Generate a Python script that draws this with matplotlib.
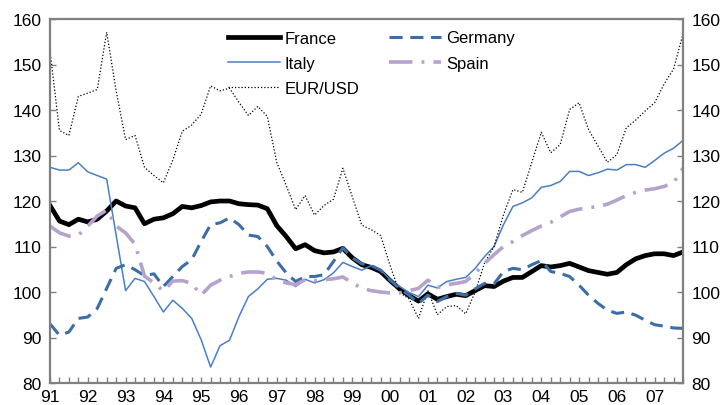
import numpy as np
import matplotlib
matplotlib.use("Agg")
import matplotlib.pyplot as plt
from matplotlib.ticker import FixedLocator, MultipleLocator

plt.rcParams['font.family'] = ['Liberation Sans', 'DejaVu Sans']

# quarterly values, 1991Q1 .. 2007Q4
france = [119.0, 115.6, 114.8, 116.0, 115.4, 116.0, 117.8, 120.0, 118.9, 118.5,
          115.0, 116.0, 116.3, 117.2, 118.8, 118.5, 119.0, 119.8, 120.0, 120.0,
          119.4, 119.2, 119.1, 118.3, 114.6, 112.2, 109.5, 110.4, 109.1, 108.6,
          108.8, 109.6, 107.5, 106.0, 105.4, 104.5, 102.5, 100.7, 99.2, 98.0,
          99.6, 98.4, 99.0, 99.5, 99.2, 100.3, 101.4, 101.2, 102.4, 103.2,
          103.2, 104.5, 105.8, 105.5, 105.8, 106.3, 105.5, 104.7, 104.3, 103.9,
          104.3, 106.0, 107.3, 108.0, 108.4, 108.4, 108.0, 108.8]
germany = [93.0, 90.5, 91.2, 94.2, 94.5, 96.4, 100.8, 105.2, 106.0, 104.9,
           103.6, 104.0, 101.2, 103.4, 105.6, 107.1, 111.1, 114.8, 115.2, 116.3,
           114.8, 112.5, 112.2, 110.0, 106.8, 104.2, 102.3, 103.4, 103.4, 103.8,
           106.7, 109.7, 107.5, 106.2, 105.8, 104.8, 102.6, 100.8, 99.3, 97.5,
           99.3, 97.9, 99.0, 99.7, 99.3, 100.7, 101.9, 101.8, 104.5, 105.2,
           104.9, 106.0, 106.9, 104.5, 104.1, 103.4, 101.5, 99.3, 97.5, 96.0,
           95.3, 95.6, 94.9, 93.8, 92.8, 92.5, 92.1, 92.0]
italy = [127.4, 126.8, 126.8, 128.4, 126.4, 125.6, 124.8, 112.5, 100.3, 103.0,
         102.3, 99.0, 95.6, 98.2, 96.4, 94.2, 89.5, 83.5, 88.2, 89.4,
         94.6, 99.0, 100.7, 102.8, 103.0, 102.6, 101.2, 102.8, 102.0, 102.7,
         104.2, 106.5, 105.6, 104.8, 105.8, 104.9, 102.7, 101.2, 99.9, 99.0,
         101.5, 100.9, 102.3, 102.8, 103.2, 105.2, 107.8, 110.0, 114.8, 118.8,
         119.6, 120.7, 123.0, 123.4, 124.3, 126.5, 126.5, 125.6, 126.2, 127.0,
         126.8, 128.0, 128.0, 127.4, 128.9, 130.5, 131.6, 133.3]
spain = [114.5, 113.0, 112.3, 112.5, 114.5, 116.7, 118.0, 114.5, 113.0, 110.5,
         103.5, 102.0, 100.2, 102.4, 102.5, 101.9, 99.3, 101.5, 102.6, 103.4,
         104.1, 104.4, 104.4, 104.1, 102.7, 102.0, 101.6, 102.7, 102.5, 102.7,
         102.9, 103.3, 102.0, 100.8, 100.3, 100.0, 99.8, 99.8, 100.3, 100.8,
         102.6, 101.0, 101.6, 101.9, 102.3, 104.1, 106.3, 108.2, 110.0, 111.1,
         112.4, 113.5, 114.5, 115.3, 116.5, 117.7, 118.2, 118.5, 118.8, 119.3,
         120.2, 121.2, 121.9, 122.4, 122.7, 123.2, 124.0, 127.2]
eurusd = [153.0, 135.5, 134.4, 143.0, 143.7, 144.5, 157.1, 144.2, 133.5, 134.4,
          127.4, 125.6, 124.0, 129.0, 135.3, 136.7, 139.1, 145.3, 144.2, 144.8,
          141.7, 138.8, 140.8, 138.6, 128.5, 123.4, 118.1, 121.2, 116.9, 119.0,
          120.4, 127.2, 120.9, 114.7, 113.7, 112.4, 105.8, 99.9, 98.5, 94.2,
          100.3, 95.0, 96.8, 97.0, 95.2, 100.0, 106.4, 110.0, 117.0, 122.5,
          121.9, 128.5, 135.1, 130.6, 132.4, 140.1, 141.6, 135.7, 132.1, 128.5,
          130.2, 136.1, 137.8, 139.8, 141.6, 145.7, 149.0, 156.7]
year_labels = ['91', '92', '93', '94', '95', '96', '97', '98', '99',
               '00', '01', '02', '03', '04', '05', '06', '07']

q = np.arange(len(france))

fig = plt.figure(figsize=(7.24, 4.06), dpi=100)
ax = fig.add_axes([50 / 724, 22 / 406, 633 / 724, 364 / 406])

l_fr, = ax.plot(q, france, color='black', lw=3.4, solid_joinstyle='round', label='France')
l_it, = ax.plot(q, italy, color='#4a7fc5', lw=1.1, label='Italy')
l_eu, = ax.plot(q, eurusd, color='black', lw=0.9, ls=(0, (1, 1.6)), label='EUR/USD')
l_de, = ax.plot(q, germany, color='#3d6da6', lw=2.2, ls=(0, (4.3, 2.5)), label='Germany')
l_es, = ax.plot(q, spain, color='#b5a3ce', lw=2.6, ls=(0, (6.5, 2.5, 0.8, 2.5)), label='Spain')

ax.set_xlim(0, len(q) - 1)
ax.set_ylim(80, 160)
ax.xaxis.set_major_locator(FixedLocator(np.arange(0, len(q), 4)))
ax.xaxis.set_minor_locator(MultipleLocator(1))
ax.set_xticklabels(year_labels)
ax.yaxis.set_major_locator(MultipleLocator(10))

ax.tick_params(axis='both', which='both', direction='in', color='#808080',
               labelsize=12.5, length=4, width=1)
ax.tick_params(axis='y', right=True, labelright=True, pad=6)
ax.tick_params(axis='x', pad=4)
for s in ax.spines.values():
    s.set_color('#808080')
    s.set_linewidth(1.6)

ax.legend(handles=[l_fr, l_it, l_eu, l_de, l_es], ncol=2, frameon=False,
          loc='upper left', bbox_to_anchor=(228 / 724, 1 - 31.5 / 406),
          bbox_transform=fig.transFigure, fontsize=12, borderpad=0,
          borderaxespad=0, handlelength=3.1, handletextpad=0.3,
          columnspacing=1.8, labelspacing=0.62)

fig.savefig('out.png', dpi=100)
